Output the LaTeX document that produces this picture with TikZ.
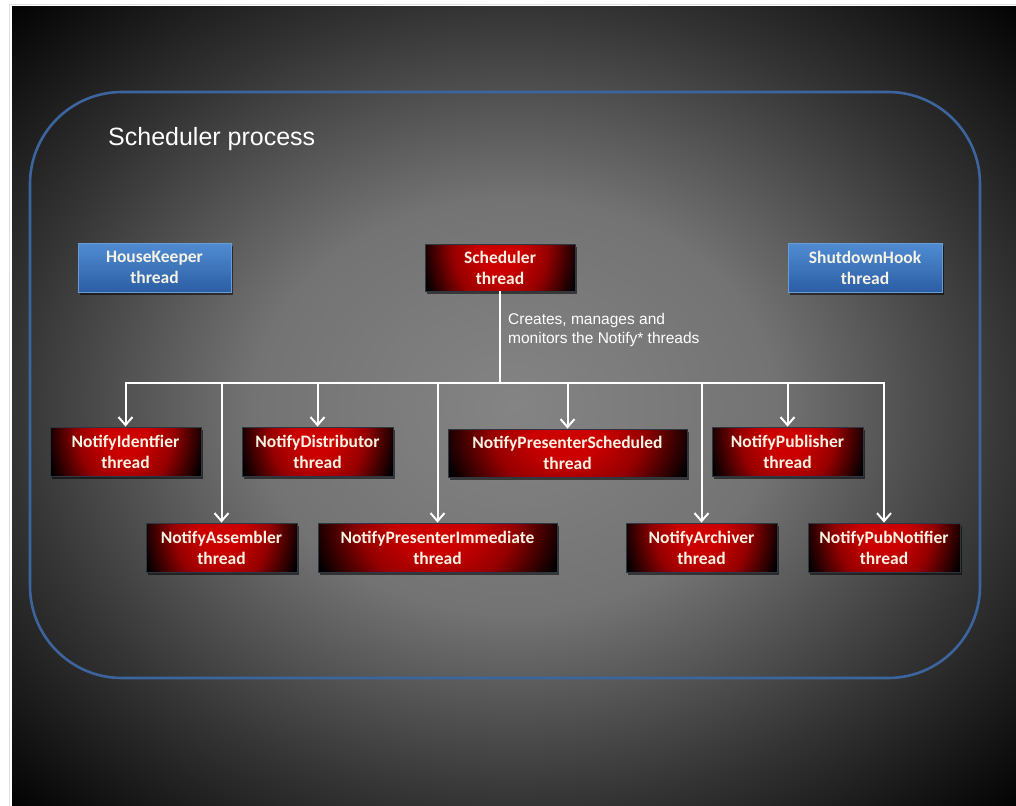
\documentclass[tikz,border=0pt]{standalone}
\usepackage{fontspec}
\setmainfont{Carlito}
\newfontfamily\arialf{Liberation Sans}
\usetikzlibrary{arrows.meta,shadows}
\definecolor{rglow}{RGB}{205,0,0}
\definecolor{rmid}{RGB}{150,0,0}
\definecolor{rdark}{RGB}{40,0,0}
\definecolor{bgc}{RGB}{132,132,132}
\definecolor{bgm}{RGB}{115,115,115}
\definecolor{bgo}{RGB}{52,52,52}
\definecolor{procblue}{RGB}{60,100,158}
\definecolor{txtc}{RGB}{246,242,228}
\definecolor{redborder}{RGB}{45,55,65}
\definecolor{bluetop}{RGB}{80,140,210}
\definecolor{bluebot}{RGB}{44,94,164}
\definecolor{blueborder}{RGB}{105,155,215}
\pgfdeclareradialshading{redglow}{\pgfpointorigin}{color(0bp)=(rglow); color(7bp)=(rglow); color(16bp)=(rmid); color(24bp)=(rdark); color(27bp)=(black); color(50bp)=(black)}
\pgfdeclareradialshading{bgglow}{\pgfpointorigin}{color(0bp)=(bgc); color(13bp)=(bgm); color(25bp)=(bgo); color(36bp)=(black)}
\tikzset{
  boxbase/.style={minimum width=151pt, minimum height=49pt, inner sep=0pt, align=center,
    text=txtc, font=\bfseries\fontsize{17.5}{21}\selectfont,
    drop shadow={shadow xshift=1.5pt, shadow yshift=-2.5pt, opacity=0.55, fill=black}},
  redbox/.style={boxbase, fill=black, draw=redborder, line width=0.8pt,
    path picture={\shade[shading=redglow]
      ([yshift=-100pt]path picture bounding box.north west) rectangle
      ([yshift=100pt]path picture bounding box.north east);}},
  bluebox/.style={boxbase, top color=bluetop, bottom color=bluebot, draw=blueborder, line width=0.8pt},
  wire/.style={draw=white, line width=2pt, line join=miter},
  arrowtip/.style={-{Straight Barb[length=8pt,width=14pt]}},
}
\begin{document}
\begin{tikzpicture}[x=1pt,y=-1pt]
\useasboundingbox (0,0) rectangle (1016,805);
\fill[white] (0,0) rectangle (1016,805);
\draw[black!12, line width=0.8pt] (9,4) rectangle (1030,820);
\shade[shading=bgglow] (12,7) rectangle (1016,805);
\draw[procblue, line width=2.6pt, rounded corners=92pt] (30,92) rectangle (980,678);

\node[anchor=base west, font=\arialf\fontsize{25}{30}\selectfont, text=white, inner sep=0pt] (title) at (108,146) {Scheduler process};

\node[bluebox, minimum width=153pt] (hk) at (154.5,267.5) {HouseKeeper\\thread};
\node[redbox, minimum width=150pt, minimum height=47pt] (sched) at (500,267.5) {Scheduler\\thread};
\node[bluebox, minimum width=154pt] (sd) at (865,267.5) {ShutdownHook\\thread};

\node[anchor=base west, align=left, font=\arialf\fontsize{15.5}{19}\selectfont, text=white, inner sep=0pt] (desc) at (508,343) {Creates, manages and\\monitors the Notify* threads};

\node[redbox] (nident) at (125.5,451.5) {NotifyIdentfier\\thread};
\node[redbox] (ndist) at (317.5,451.5) {NotifyDistributor\\thread};
\node[redbox, minimum width=239pt, minimum height=48pt] (npsched) at (567.5,453) {NotifyPresenterScheduled\\thread};
\node[redbox] (npub) at (787.5,451.5) {NotifyPublisher\\thread};
\node[redbox] (nasm) at (221.5,547.5) {NotifyAssembler\\thread};
\node[redbox, minimum width=239pt] (npimm) at (437.5,547.5) {NotifyPresenterImmediate\\thread};
\node[redbox] (narch) at (701.5,547.5) {NotifyArchiver\\thread};
\node[redbox, minimum width=152pt] (npubn) at (884,547.5) {NotifyPubNotifier\\thread};

\coordinate (bus) at (500,383);
\draw[wire] (sched.south) -- (bus);
\foreach \n in {nident,nasm,ndist,npimm,npsched,narch,npub,npubn}
  \draw[wire,arrowtip] (bus) -| (\n.north);
\end{tikzpicture}
\end{document}
